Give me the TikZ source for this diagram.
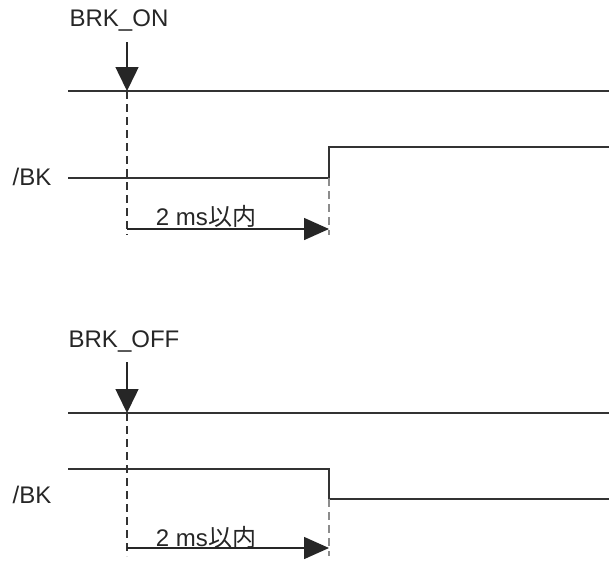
\documentclass[tikz,border=0pt]{standalone}
\usepackage{fontspec}
\setmainfont{Liberation Sans}
\newfontfamily\cjk{Noto Sans CJK JP}
\usetikzlibrary{arrows.meta}
\begin{document}
\begin{tikzpicture}[x=1pt,y=-1pt,
  sig/.style={line width=1.5pt,draw=black!80},
  guide/.style={line width=1.3pt,draw=black!80,dash pattern=on 8pt off 5pt},
  guidegray/.style={line width=1.3pt,draw=black!45,dash pattern=on 8pt off 5pt},
  downarr/.style={line width=1.5pt,draw=black!85,-{Triangle[width=23pt,length=24pt]}},
  rightarr/.style={line width=1.5pt,draw=black!85,-{Triangle[width=22pt,length=25pt]}},
  lbl/.style={font=\fontsize{24}{28}\selectfont,text=black!85,inner sep=0pt},
]
\useasboundingbox (0,0) rectangle (609,560);
% ---------- top ----------
\node[lbl] (on) at (119,21) {BRK\_ON};
\coordinate (onA) at (127,42);
\coordinate (onB) at (127,91);
\coordinate (onL0) at (68,91);
\coordinate (onL1) at (609,91);
\node[lbl] (bk1) at (32,177) {/BK};
\coordinate (b1a) at (68,178);
\coordinate (b1b) at (329,178);
\coordinate (b1c) at (329,147);
\coordinate (b1d) at (609,147);
\coordinate (d1b) at (127,235);
\coordinate (g1b) at (329,235);
\coordinate (h1a) at (127,229);
\coordinate (h1b) at (329,229);
\node[lbl] (t1) at (206,216) {2 ms{\cjk 以内}};
\draw[sig] (onL0) -- (onL1);
\draw[sig] (b1a) -- (b1b) -- (b1c) -- (b1d);
\draw[guide] (onB) -- (d1b);
\draw[guidegray] (b1b) -- (g1b);
\draw[downarr] (onA) -- (onB);
\draw[rightarr] (h1a) -- (h1b);
% ---------- bottom ----------
\node[lbl] (off) at (124,341) {BRK\_OFF};
\coordinate (offA) at (127,362);
\coordinate (offB) at (127,413);
\coordinate (offL0) at (68,413);
\coordinate (offL1) at (609,413);
\node[lbl] (bk2) at (32,495) {/BK};
\coordinate (b2a) at (68,469);
\coordinate (b2b) at (329,469);
\coordinate (b2c) at (329,499);
\coordinate (b2d) at (609,499);
\coordinate (d2b) at (127,556);
\coordinate (g2b) at (329,556);
\coordinate (h2a) at (127,548);
\coordinate (h2b) at (329,548);
\node[lbl] (t2) at (206,537) {2 ms{\cjk 以内}};
\draw[sig] (offL0) -- (offL1);
\draw[sig] (b2a) -- (b2b) -- (b2c) -- (b2d);
\draw[guide] (offB) -- (d2b);
\draw[guidegray] (b2c) -- (g2b);
\draw[downarr] (offA) -- (offB);
\draw[rightarr] (h2a) -- (h2b);
\end{tikzpicture}
\end{document}
